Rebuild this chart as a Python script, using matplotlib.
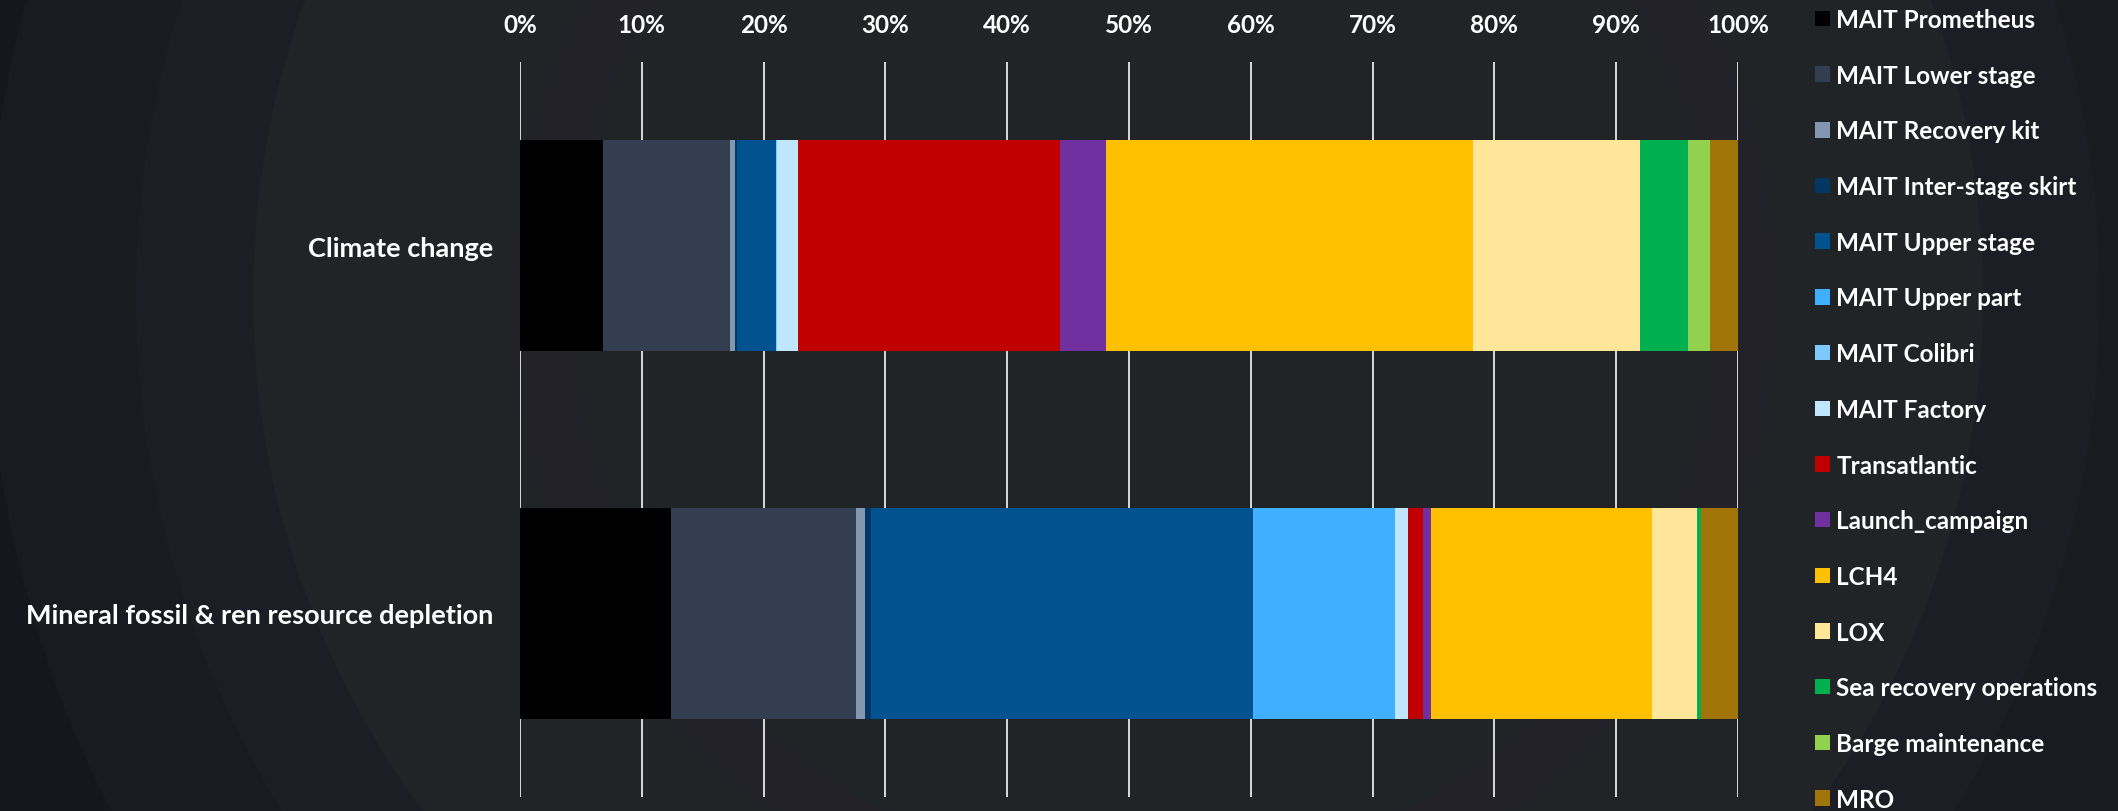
import numpy as np
import matplotlib.pyplot as plt
from matplotlib.patches import Circle, Patch

plt.rcParams['font.family'] = ['Lato', 'DejaVu Sans']
plt.rcParams['font.weight'] = 'bold'

categories = ['Climate change', 'Mineral fossil & ren resource depletion']
series = ['MAIT Prometheus', 'MAIT Lower stage', 'MAIT Recovery kit',
          'MAIT Inter-stage skirt', 'MAIT Upper stage', 'MAIT Upper part',
          'MAIT Colibri', 'MAIT Factory', 'Transatlantic', 'Launch_campaign',
          'LCH4', 'LOX', 'Sea recovery operations', 'Barge maintenance', 'MRO']
climate = [6.78, 10.44, 0.47, 0.15, 3.19, 0.03, 0.02, 1.75, 21.50, 3.77,
           30.14, 13.72, 3.95, 1.79, 2.34]
mineral = [12.42, 15.16, 0.77, 0.48, 31.38, 11.65, 0.05, 1.04, 1.25, 0.62,
           18.18, 3.74, 0.28, 0.03, 3.03]
colors = ['#000000', '#333f50', '#8497b0', '#023763', '#00538f', '#41afff',
          '#7cc8ff', '#c0e5ff', '#c00000', '#7030a0', '#ffc000', '#ffe699',
          '#00b050', '#92d050', '#a07406']
ticks = np.arange(0, 101, 10)

W, H = 2118, 812
fig = plt.figure(figsize=(W / 100, H / 100), dpi=100)
fig.patch.set_facecolor('#15171d')

# dark background with faint arcs
bg = fig.add_axes([0, 0, 1, 1], zorder=-1)
bg.set_xlim(0, W)
bg.set_ylim(H, 0)
bg.axis('off')
for r, c in [(1131, '#191b21'), (982, '#1d1e25'), (865, '#202427')]:
    bg.add_patch(Circle((1118, 297), r, color=c, lw=0))
bg.add_patch(Circle((1144, 300), 632, color='#232228', lw=0))
bg.add_patch(Circle((1144, 300), 573, color='#202427', lw=0))

ax = fig.add_axes([520 / W, 1 - 798 / H, 1218 / W, 735 / H])
ax.set_facecolor('none')

data = np.array([climate, mineral])
pct = data / data.sum(axis=1, keepdims=True) * 100
y = np.arange(len(categories))
left = np.zeros(len(categories))
for i, name in enumerate(series):
    ax.barh(y, pct[:, i], left=left, height=0.574, color=colors[i],
            label=name, linewidth=0, zorder=3)
    left += pct[:, i]

ax.set_xlim(0, 100)
ax.set_ylim(1.5, -0.5)
ax.set_xticks(ticks)
ax.set_xticklabels([f'{t}%' for t in ticks])
ax.xaxis.tick_top()
ax.set_yticks(y)
ax.set_yticklabels(categories)
ax.tick_params(axis='x', length=0, pad=19, labelsize=17.5, colors='white')
ax.tick_params(axis='y', length=0, pad=19, labelsize=19.5, colors='white')
ax.grid(axis='x', color='#d9d9d9', linewidth=1.4, zorder=0)
ax.set_axisbelow(True)
for s in ax.spines.values():
    s.set_visible(False)

handles = [Patch(facecolor=c, edgecolor='none') for c in colors]
leg = fig.legend(handles, series, loc='upper left',
                 bbox_to_anchor=(1815 / W, 1 - 9 / H), frameon=False,
                 fontsize=17.5, handlelength=0.6, handleheight=0.6,
                 handletextpad=0.28, labelspacing=1.345, borderpad=0,
                 borderaxespad=0)
for t in leg.get_texts():
    t.set_color('white')

fig.savefig('out.png', dpi=100, facecolor=fig.get_facecolor())
